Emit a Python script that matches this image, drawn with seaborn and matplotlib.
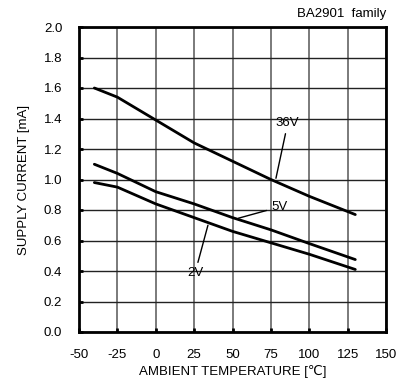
import seaborn as sns
import matplotlib.pyplot as plt
import pandas as pd

temps = [-40, -25, 0, 25, 50, 75, 100, 130]
i_36v = [1.60, 1.54, 1.39, 1.24, 1.12, 1.00, 0.89, 0.77]
i_5v = [1.10, 1.04, 0.92, 0.84, 0.75, 0.67, 0.58, 0.475]
i_2v = [0.98, 0.95, 0.84, 0.75, 0.66, 0.585, 0.51, 0.41]

df = pd.DataFrame({
    'temp': temps * 3,
    'current': i_36v + i_5v + i_2v,
    'vcc': ['36V'] * 8 + ['5V'] * 8 + ['2V'] * 8,
})

sns.set_style('white')
plt.rcParams['font.family'] = ['Liberation Sans', 'DejaVu Sans']
plt.rcParams['axes.unicode_minus'] = False
plt.rcParams['text.color'] = 'black'

FS = 9.5

fig = plt.figure(figsize=(4.11, 3.89), dpi=100)
ax = fig.add_axes([79 / 411, 1 - 332 / 389, 307 / 411, 305 / 389])

sns.lineplot(data=df, x='temp', y='current', units='vcc', estimator=None,
             color='black', linewidth=2, ax=ax, legend=False)

ax.set_xlim(-50, 150)
ax.set_ylim(0, 2.0)
ax.set_xticks(range(-50, 151, 25))
ax.set_yticks([i / 10 for i in range(0, 21, 2)])
ax.set_yticklabels([f'{i / 10:.1f}' for i in range(0, 21, 2)])

ax.xaxis.grid(True, color='#7a7a7a', linewidth=1.4)
ax.yaxis.grid(True, color='#222222', linewidth=1.0)
ax.set_axisbelow(True)
for s in ax.spines.values():
    s.set_visible(True)
    s.set_color('black')
    s.set_linewidth(2)

ax.tick_params(direction='in', length=3, width=2, labelsize=FS, colors='black',
               bottom=True, left=True)
ax.tick_params(axis='y', pad=12)
ax.tick_params(axis='x', pad=12)

ax.set_xlabel('AMBIENT TEMPERATURE [\u2103]', fontsize=FS, labelpad=3, color='black')
ax.set_ylabel('SUPPLY CURRENT [mA]', fontsize=FS, labelpad=10, color='black')

fig.text(386 / 411, 1 - 14 / 389, 'BA2901  family', ha='right', va='center', fontsize=FS)

# callouts
arrow = dict(arrowstyle='-', color='black', lw=1, shrinkA=1, shrinkB=0)
ax.annotate('36V', xy=(78.3, 1.008), xytext=(86, 1.37), fontsize=FS,
            ha='center', va='center', arrowprops=arrow)
ax.annotate('5V', xy=(53.8, 0.746), xytext=(80.5, 0.82), fontsize=FS,
            ha='center', va='center', arrowprops=arrow)
ax.annotate('2V', xy=(34, 0.70), xytext=(25.6, 0.387), fontsize=FS,
            ha='center', va='center', arrowprops=arrow)

fig.savefig('out.png', dpi=100)
